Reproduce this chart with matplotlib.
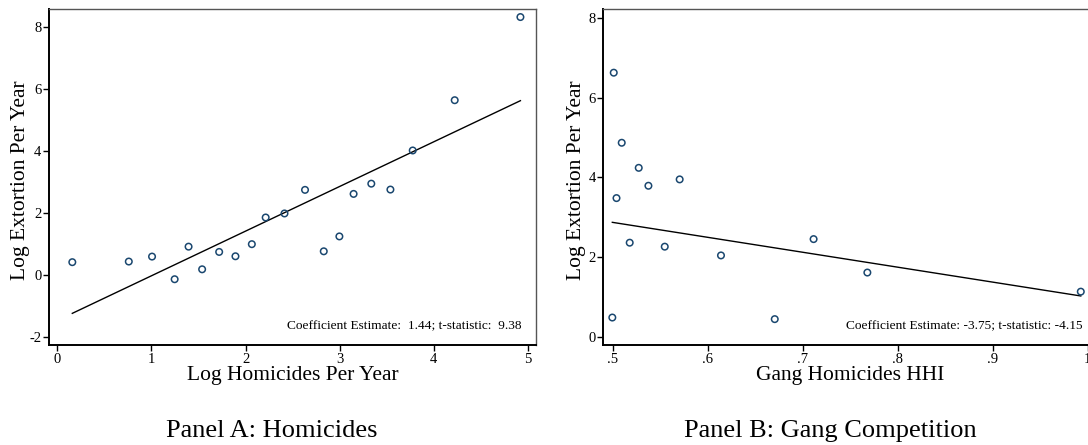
import numpy as np
import matplotlib
matplotlib.use('Agg')
import matplotlib.pyplot as plt

plt.rcParams['font.family'] = ['Liberation Serif', 'DejaVu Serif']
plt.rcParams['axes.unicode_minus'] = False

# Panel A: homicides
hom_x = [0.16, 0.76, 1.007, 1.247, 1.395, 1.539, 1.72, 1.893, 2.067, 2.214,
         2.414, 2.632, 2.831, 2.997, 3.148, 3.336, 3.539, 3.776, 4.222, 4.92]
hom_y = [0.41, 0.43, 0.59, -0.14, 0.91, 0.18, 0.74, 0.60, 0.99, 1.85,
         1.98, 2.74, 0.76, 1.24, 2.61, 2.94, 2.75, 4.01, 5.63, 8.31]
hom_coef = 1.44
hom_icpt = -1.47
hom_note = 'Coefficient Estimate:  1.44; t-statistic:  9.38'

# Panel B: gang competition
hhi_x = [0.5011, 0.5095, 0.5274, 0.5376, 0.5705, 0.504, 0.5179, 0.5548,
         0.4996, 0.614, 0.6706, 0.7115, 0.7681, 0.9928]
hhi_y = [6.63, 4.87, 4.24, 3.79, 3.95, 3.48, 2.36, 2.26,
         0.48, 2.04, 0.44, 2.45, 1.61, 1.13]
hhi_coef = -3.75
hhi_icpt = 4.745
hhi_note = 'Coefficient Estimate: -3.75; t-statistic: -4.15'

a_xticks = [0, 1, 2, 3, 4, 5]
a_yticks = [-2, 0, 2, 4, 6, 8]
b_xticks = [0.5, 0.6, 0.7, 0.8, 0.9, 1.0]
b_xticklabels = ['.5', '.6', '.7', '.8', '.9', '1']
b_yticks = [0, 2, 4, 6, 8]

navy = '#1a476f'

fig = plt.figure(figsize=(10.88, 4.45), dpi=100)
ax1 = fig.add_axes([0.0450, 0.2247, 0.4476, 0.7551])
ax2 = fig.add_axes([0.5545, 0.2247, 0.4538, 0.7551])


def style(ax):
    for s in ['left', 'bottom']:
        ax.spines[s].set_linewidth(1.4)
        ax.spines[s].set_color('black')
    for s in ['top', 'right']:
        ax.spines[s].set_linewidth(1.0)
        ax.spines[s].set_color('#555555')
    ax.tick_params(direction='out', length=4, width=1, labelsize=10.5, pad=1.5,
                   top=False, right=False)


def panel(ax, x, y, coef, icpt, note, nx):
    ax.scatter(x, y, s=22, facecolors='none', edgecolors=navy, linewidths=1.1, zorder=3)
    xs = np.array([min(x), max(x)])
    ax.plot(xs, icpt + coef * xs, color='black', lw=1.0, zorder=2)
    ax.text(nx, 0.055, note, transform=ax.transAxes, ha='right', va='center', fontsize=9.6)
    style(ax)


panel(ax1, hom_x, hom_y, hom_coef, hom_icpt, hom_note, 0.97)
ax1.set_xlim(-0.088, 5.085)
ax1.set_ylim(-2.26, 8.57)
ax1.set_xticks(a_xticks)
ax1.set_yticks(a_yticks)
ax1.set_xlabel('Log Homicides Per Year', fontsize=15.5, va='baseline')
ax1.set_ylabel('Log Extortion Per Year', fontsize=15.5, va='center')
ax1.xaxis.set_label_coords(0.5, -0.104)
ax1.yaxis.set_label_coords(-0.058, 0.49)

panel(ax2, hhi_x, hhi_y, hhi_coef, hhi_icpt, hhi_note, 0.9715)
ax2.set_xlim(0.4901, 1.0099)
ax2.set_ylim(-0.21, 8.23)
ax2.set_xticks(b_xticks)
ax2.set_xticklabels(b_xticklabels)
ax2.set_yticks(b_yticks)
ax2.set_xlabel('Gang Homicides HHI', fontsize=15.5, va='baseline')
ax2.set_ylabel('Log Extortion Per Year', fontsize=15.5, va='center')
ax2.xaxis.set_label_coords(0.5, -0.104)
ax2.yaxis.set_label_coords(-0.055, 0.49)

fig.text(271.5 / 1088, 8 / 445, 'Panel A: Homicides', ha='center', va='baseline', fontsize=19)
fig.text(830 / 1088, 8 / 445, 'Panel B: Gang Competition', ha='center', va='baseline', fontsize=19)

fig.savefig('out.png', dpi=100)
